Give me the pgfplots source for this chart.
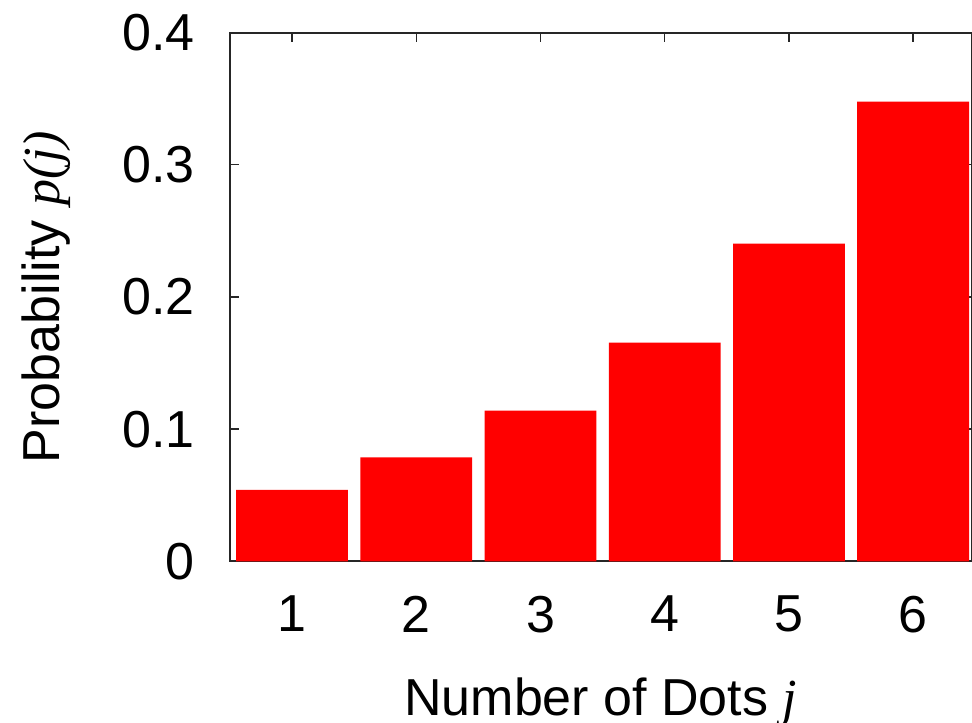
\documentclass[border=0pt]{standalone}
\usepackage{fontspec}
\setmainfont{Liberation Sans}
\newfontfamily\lser{Liberation Serif}
\usepackage{pgfplots}
\pgfplotsset{compat=1.18}
\begin{document}
\begin{tikzpicture}
\useasboundingbox (-115pt,-80.35pt) rectangle (371pt,280.65pt);
\begin{axis}[
  at={(0,0)}, anchor=south west,
  scale only axis,
  width=370.75pt, height=264.35pt,
  xmin=0.5, xmax=6.47,
  ymin=0, ymax=0.4,
  ybar, bar width=0.9, bar shift=0pt,
  xtick={1,2,3,4,5,6},
  ytick={0,0.1,0.2,0.3,0.4},
  yticklabels={0,0.1,0.2,0.3,0.4},
  xtick pos=upper,
  ytick pos=both,
  tick align=inside,
  major tick length=4.5pt,
  every tick/.style={black!85, line width=0.7pt},
  axis line style={black!85, line width=1pt},
  /pgf/number format/assume math mode=true,
  tick label style={font=\fontsize{26}{30}\selectfont},
  label style={font=\fontsize{26}{30}\selectfont},
  xticklabel pos=lower,
  xticklabel style={anchor=north, inner sep=0pt, yshift=-17.2pt},
  yticklabel style={anchor=east, inner sep=0pt, xshift=-17.5pt},
  xlabel={Number of Dots {\lser\itshape j}},
  ylabel={Probability {\lser\itshape p(j)}},
  xlabel style={at={(axis description cs:0.5,0)}, anchor=base, yshift=-77pt, inner sep=0pt},
  ylabel style={at={(axis description cs:0,0.5)}, anchor=base, yshift=85.25pt, inner sep=0pt},
]
\addplot[fill=red, draw=none] coordinates {
  (1,0.0540) (2,0.0787) (3,0.1140) (4,0.1655) (5,0.2403) (6,0.3478)
};
\end{axis}
\end{tikzpicture}
\end{document}
